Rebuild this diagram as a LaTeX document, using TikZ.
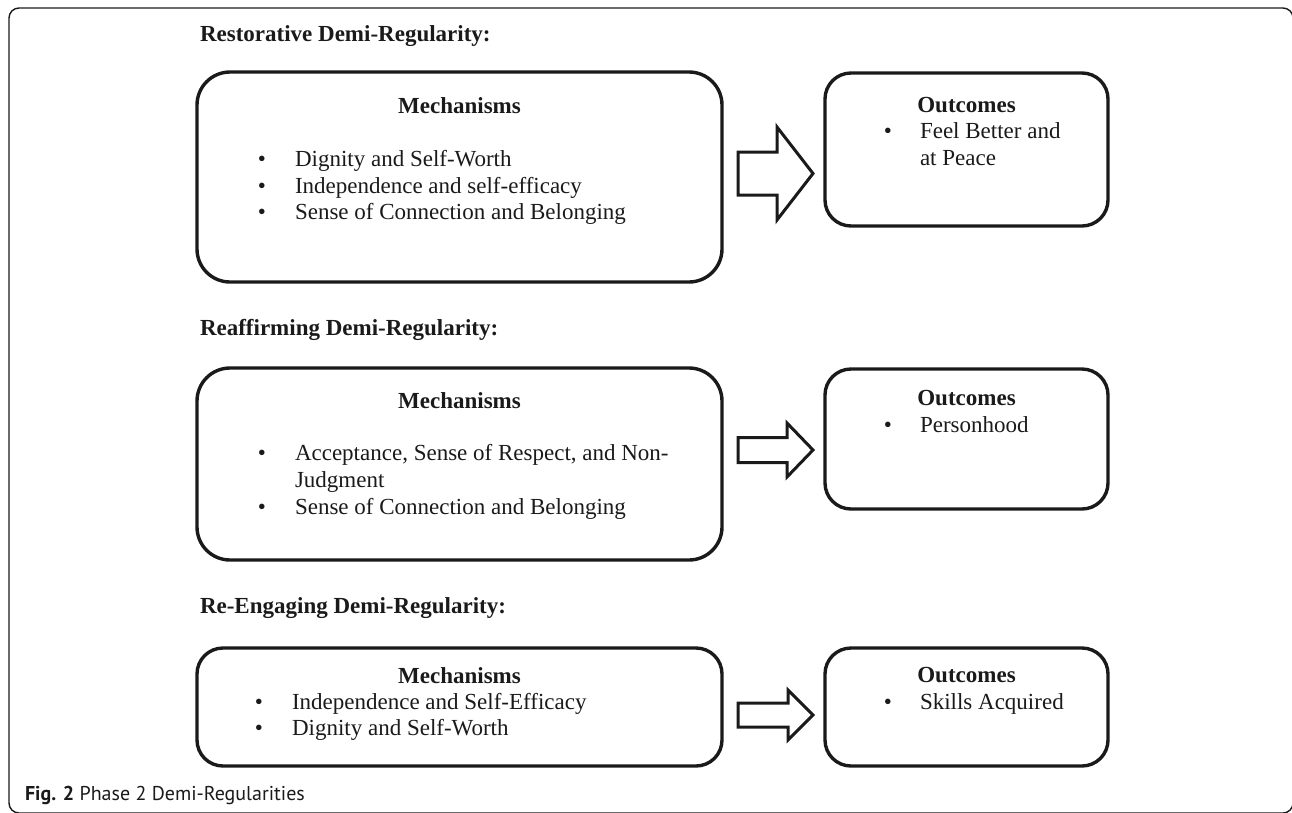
\documentclass[tikz,border=0pt]{standalone}
\usepackage{fontspec}
\setmainfont{Liberation Serif}
\newfontfamily\capfont{PT Sans}
\definecolor{ink}{HTML}{1A1A1A}
\begin{document}
\begin{tikzpicture}[x=1pt,y=-1pt,
  every node/.style={inner sep=0pt, outer sep=0pt, text=ink},
  frame/.style={draw=ink, line width=1.4pt, rounded corners=10pt},
  mbox/.style={draw=ink, line width=3.4pt, rounded corners=33pt},
  obox/.style={draw=ink, line width=3.4pt, rounded corners=26pt},
  barrow/.style={draw=ink, line width=3pt, fill=white, line join=miter},
  head/.style={font=\fontsize{23}{27}\selectfont\bfseries, anchor=base west},
  ttl/.style={font=\fontsize{23}{27}\selectfont\bfseries, anchor=base},
  item/.style={font=\fontsize{23}{27}\selectfont, anchor=base west},
  bul/.style={font=\fontsize{23}{27}\selectfont, anchor=base},
  captext/.style={font=\capfont\fontsize{20}{24}\selectfont, anchor=base west}]
\useasboundingbox (0,0) rectangle (1292,812);
\draw[frame] (9,8) rectangle (1293,813);

% ---- Restorative
\node[head] (h1) at (200,41) {Restorative Demi-Regularity:};
\node[mbox, minimum width=525pt, minimum height=210pt] (m1) at (459.5,177) {};
\node[obox, minimum width=283pt, minimum height=153pt] (o1) at (966.5,149.5) {};
\node[ttl] (m1t) at (459.5,113) {Mechanisms};
\node[bul] (m1b1) at (262,166) {•};
\node[item] (m1i1) at (295,166) {Dignity and Self-Worth};
\node[bul] (m1b2) at (262,193) {•};
\node[item] (m1i2) at (295,193) {Independence and self-efficacy};
\node[bul] (m1b3) at (262,219) {•};
\node[item] (m1i3) at (295,219) {Sense of Connection and Belonging};
\node[ttl] (o1t) at (966.5,112) {Outcomes};
\node[bul] (o1b1) at (888,138) {•};
\node[item] (o1i1) at (920,138) {Feel Better and};
\node[item] (o1i2) at (920,165) {at Peace};
\draw[barrow] (738,152) -- (777,152) -- (777,127) -- (813,173.5) -- (777,220) -- (777,195) -- (738,195) -- cycle;

% ---- Reaffirming
\node[head] (h2) at (200,335) {Reaffirming Demi-Regularity:};
\node[mbox, minimum width=525pt, minimum height=192pt] (m2) at (459.5,464) {};
\node[obox, minimum width=283pt, minimum height=140pt] (o2) at (966.5,439) {};
\node[ttl] (m2t) at (459.5,408) {Mechanisms};
\node[bul] (m2b1) at (262,460) {•};
\node[item] (m2i1) at (295,460) {Acceptance, Sense of Respect, and Non-};
\node[item] (m2i2) at (295,487) {Judgment};
\node[bul] (m2b2) at (262,514) {•};
\node[item] (m2i3) at (295,514) {Sense of Connection and Belonging};
\node[ttl] (o2t) at (966.5,405) {Outcomes};
\node[bul] (o2b1) at (888,432) {•};
\node[item] (o2i1) at (920,432) {Personhood};
\draw[barrow] (738,437.5) -- (787,437.5) -- (787,423) -- (813,450) -- (787,477) -- (787,462.5) -- (738,462.5) -- cycle;

% ---- Re-Engaging
\node[head] (h3) at (200,613) {Re-Engaging Demi-Regularity:};
\node[mbox, rounded corners=26pt, minimum width=525pt, minimum height=118pt] (m3) at (459.5,707) {};
\node[obox, minimum width=283pt, minimum height=118pt] (o3) at (966.5,707) {};
\node[ttl] (m3t) at (459.5,683) {Mechanisms};
\node[bul] (m3b1) at (259,709) {•};
\node[item] (m3i1) at (292,709) {Independence and Self-Efficacy};
\node[bul] (m3b2) at (259,735) {•};
\node[item] (m3i2) at (292,735) {Dignity and Self-Worth};
\node[ttl] (o3t) at (966.5,682) {Outcomes};
\node[bul] (o3b1) at (888,709) {•};
\node[item] (o3i1) at (920,709) {Skills Acquired};
\draw[barrow] (738,703) -- (788,703) -- (788,690) -- (813,715) -- (788,740) -- (788,727) -- (738,727) -- cycle;

% ---- caption
\node[captext] (figcap) at (25,800) {\textbf{Fig. 2} Phase 2 Demi-Regularities};
\end{tikzpicture}
\end{document}
